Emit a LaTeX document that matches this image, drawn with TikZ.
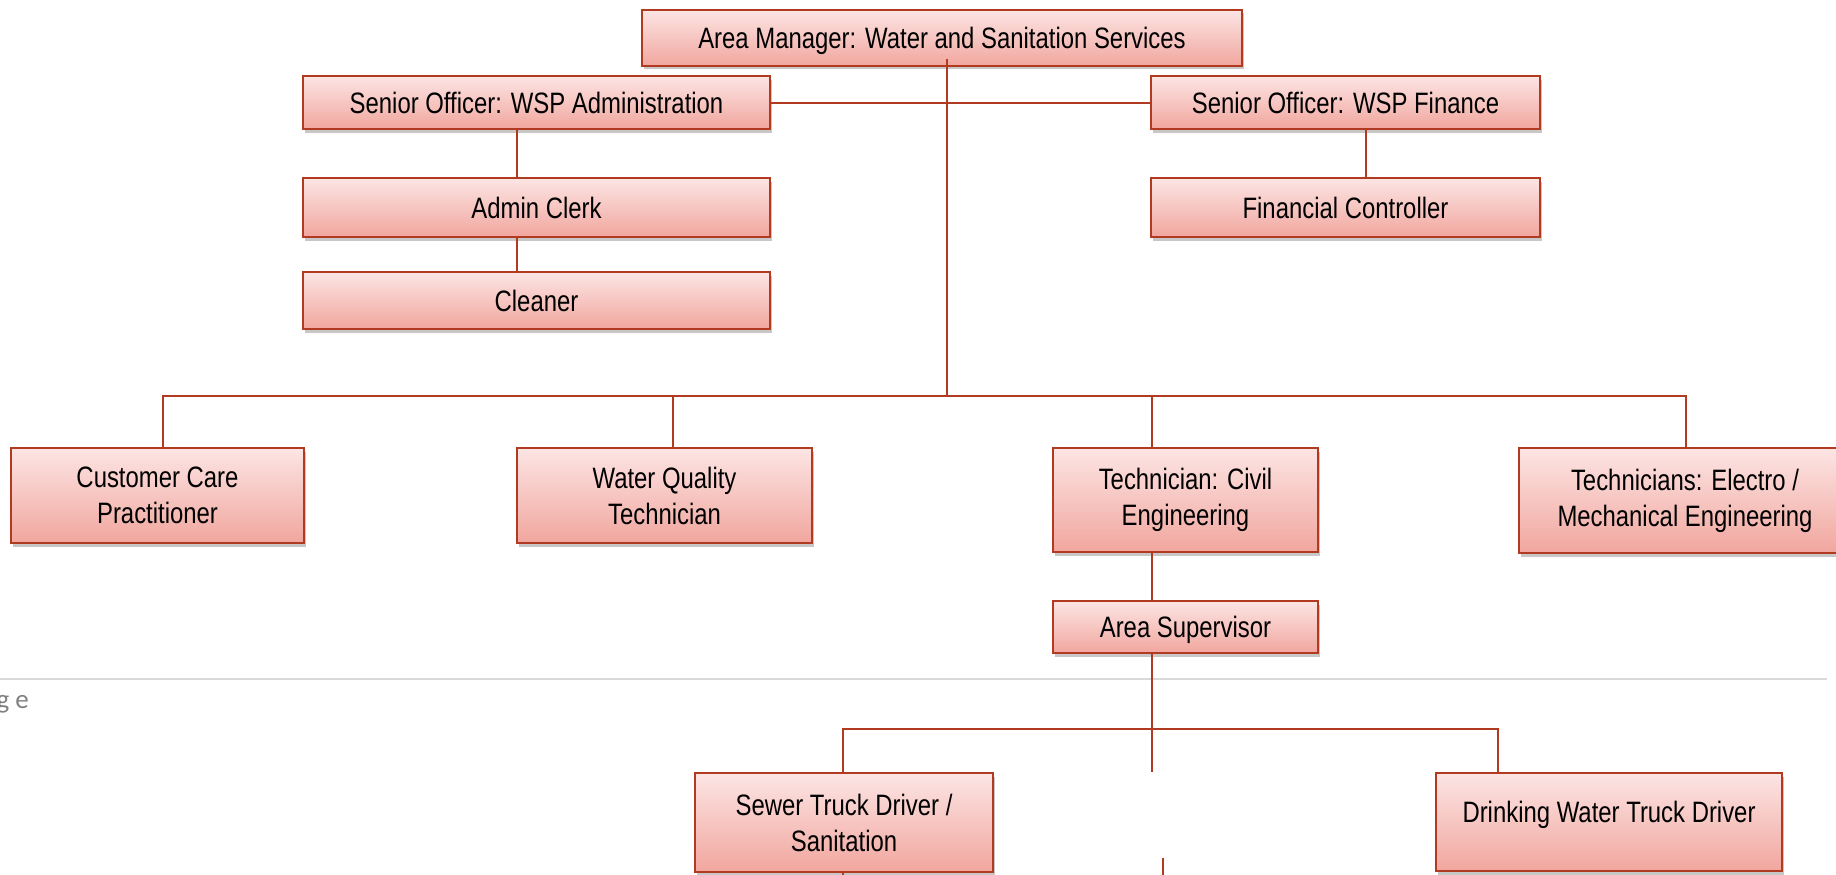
\documentclass[tikz,border=0pt]{standalone}
\usepackage{fontspec}
\setmainfont{Liberation Sans}[FakeStretch=0.81]
\newfontfamily\pagefont{Carlito}
\usetikzlibrary{shadows}

\definecolor{boxline}{RGB}{178,58,32}
\definecolor{boxtop}{RGB}{252,229,228}
\definecolor{boxbottom}{RGB}{241,166,158}
\definecolor{rulegray}{RGB}{217,217,217}
\definecolor{pagegray}{RGB}{128,128,128}

\tikzset{
  orgbox/.style={
    draw=boxline, line width=2.2pt,
    top color=boxtop, bottom color=boxbottom,
    drop shadow={shadow xshift=1.5pt, shadow yshift=-3.5pt, opacity=0.22, fill=black},
    inner sep=0pt, align=center, text=black,
    font=\fontsize{29.5}{36}\selectfont
  },
  oneline/.style={text height=21pt, text depth=0pt},
  conn/.style={draw=boxline, line width=2pt},
  lbl/.style={inner sep=0pt, text=black, font=\fontsize{29.5}{36}\selectfont, text height=21pt, text depth=0pt}
}

\begin{document}
\begin{tikzpicture}[x=1pt, y=-1pt]
\useasboundingbox (0,0) rectangle (1836,875);
\clip (0,0) rectangle (1836,875);

% page footer rule and folio fragment
\coordinate (ruleL) at (0,679);
\coordinate (ruleR) at (1827,679);
\draw[rulegray, line width=2pt] (ruleL) -- (ruleR);
\node[anchor=base east, inner sep=0pt, text=pagegray, font=\pagefont\fontsize{27}{30}\selectfont] (folio) at (29,708) {g e};

% management level
\node[orgbox, oneline, minimum width=600pt, minimum height=56pt] (am) at (942,38) {Area Manager: Water and Sanitation Services};
\node[orgbox, oneline, minimum width=467pt, minimum height=53pt] (sa) at (536.5,102.5) {Senior Officer: WSP Administration};
\node[orgbox, oneline, minimum width=389pt, minimum height=53pt] (sf) at (1345.5,102.5) {Senior Officer: WSP Finance};
\node[orgbox, oneline, minimum width=467pt, minimum height=59pt] (ac) at (536.5,207.5) {Admin Clerk};
\node[orgbox, oneline, minimum width=467pt, minimum height=57pt] (cl) at (536.5,300.5) {Cleaner};
\node[orgbox, oneline, minimum width=389pt, minimum height=59pt] (fc) at (1345.5,207.5) {Financial Controller};

% operational level
\node[orgbox, minimum width=293pt, minimum height=95pt] (cc) at (157.5,495.5) {Customer Care\\Practitioner};
\node[orgbox, minimum width=295pt, minimum height=95pt] (wq) at (664.5,495.5) {Water Quality\\Technician};
\node[orgbox, minimum width=265pt, minimum height=104pt] (tc) at (1185.5,500) {Technician: Civil\\Engineering};
\node[orgbox, minimum width=332pt, minimum height=105pt] (te) at (1685,500.5) {Technicians: Electro /\\Mechanical Engineering};
\node[orgbox, oneline, minimum width=265pt, minimum height=52pt] (as) at (1185.5,627) {Area Supervisor};

% drivers
\node[orgbox, minimum width=298pt, minimum height=99pt] (sw) at (844,822.5) {Sewer Truck Driver /\\Sanitation};
\node[orgbox, minimum width=346pt, minimum height=98pt] (dw) at (1609,822) {};
\node[lbl] (dwl) at (1609,812) {Drinking Water Truck Driver};

% connectors: top management
\coordinate (bus1) at (947,396);
\draw[conn] ([xshift=5pt,yshift=8pt]am.south) -- (bus1);
\draw[conn] (sa.east) -- (sf.west);
\draw[conn] ([xshift=-19.5pt]sa.south) -- ([xshift=-19.5pt]ac.north);
\draw[conn] ([xshift=-19.5pt]ac.south) -- ([xshift=-19.5pt]cl.north);
\draw[conn] ([xshift=20.5pt]sf.south) -- ([xshift=20.5pt]fc.north);

% connectors: operational bus
\draw[conn] (bus1) -| ([xshift=5.5pt]cc.north);
\draw[conn] (bus1) -| ([xshift=8.5pt]wq.north);
\draw[conn] (bus1) -| ([xshift=-33.5pt]tc.north);
\draw[conn] (bus1) -| ([xshift=1pt]te.north);
\draw[conn] ([xshift=-33.5pt]tc.south) -- ([xshift=-33.5pt]as.north);

% connectors: drivers bus
\coordinate (bus2) at (1152,729);
\coordinate (busEnd) at (1152,772);
\draw[conn] ([xshift=-33.5pt]as.south) -- (busEnd);
\draw[conn] (bus2) -| ([xshift=-1pt]sw.north);
\draw[conn] (bus2) -| ([xshift=-111pt]dw.north);

% lines running on below the page edge
\coordinate (swDown) at (843,890);
\draw[conn] ([xshift=-1pt]sw.south) -- (swDown);
\coordinate (stubTop) at (1163,858);
\coordinate (stubBot) at (1163,890);
\draw[conn] (stubTop) -- (stubBot);
\end{tikzpicture}
\end{document}
